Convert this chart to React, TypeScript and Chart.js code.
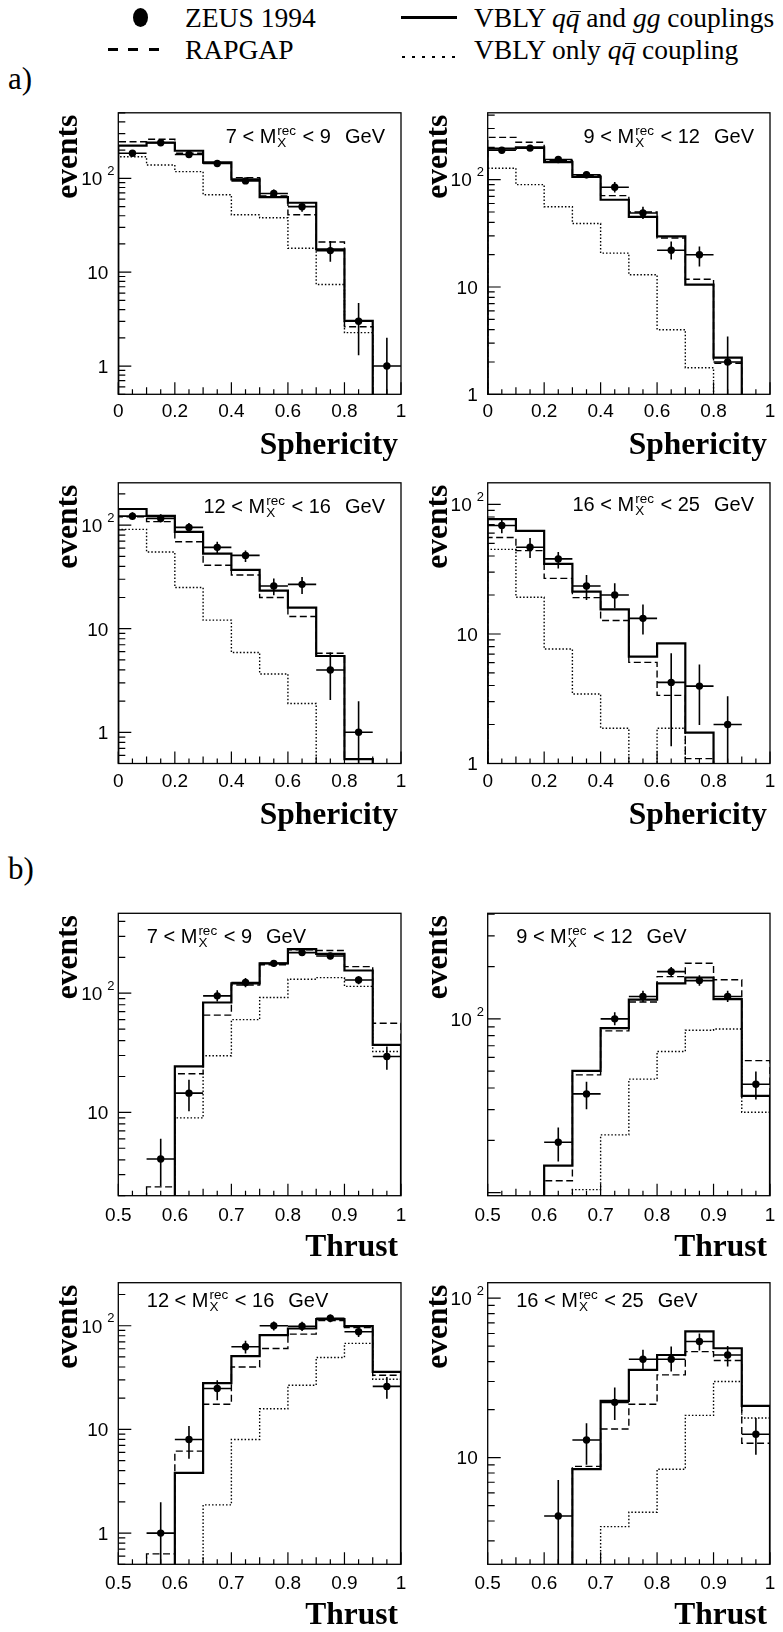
import React, { useEffect, useRef } from 'react';
import { Chart, registerables } from 'chart.js';

Chart.register(...registerables);

const PAGE_W = 783;
const PAGE_H = 1632;
const FONT_SANS = '"Liberation Sans", Arial, Helvetica, sans-serif';
const FONT_SERIF = '"Liberation Serif", "Times New Roman", serif';

// ---------------- bins / axes ----------------
const sphEdges = [0, 0.1, 0.2, 0.3, 0.4, 0.5, 0.6, 0.7, 0.8, 0.9, 1.0];
const sphCenters = [0.05, 0.15, 0.25, 0.35, 0.45, 0.55, 0.65, 0.75, 0.85, 0.95];
const thrEdges = [0.5, 0.55, 0.6, 0.65, 0.7, 0.75, 0.8, 0.85, 0.9, 0.95, 1.0];
const thrCenters = [0.525, 0.575, 0.625, 0.675, 0.725, 0.775, 0.825, 0.875, 0.925, 0.975];
const sphTickValues = [0, 0.2, 0.4, 0.6, 0.8, 1];
const sphTickLabels = ['0', '0.2', '0.4', '0.6', '0.8', '1'];
const thrTickValues = [0.5, 0.6, 0.7, 0.8, 0.9, 1];
const thrTickLabels = ['0.5', '0.6', '0.7', '0.8', '0.9', '1'];
const massLow = [7, 9, 12, 16];
const massHigh = [9, 12, 16, 25];

const sphYMin = [0.5, 1, 0.5, 1];
const sphYMax = [500, 420, 256, 147];
const thrYMin = [2, 9.6, 0.5, 2.14];
const thrYMax = [468, 405, 260, 125];
const sphYLabels = [[1, 10, 100], [1, 10, 100], [1, 10, 100], [1, 10, 100]];
const thrYLabels = [[10, 100], [100], [1, 10, 100], [10, 100]];

// ---------------- a) Sphericity ----------------
// 7 < M < 9 GeV
const sph1Zeus = [185, 240, 180, 144, 94, 69, 50, 17, 3.0, 1.0];
const sph1ZeusLo = [172, 226, 168, 134, 87, 62, 44, 12.9, 1.3, 0];
const sph1ZeusHi = [198, 255, 192, 154, 101, 76, 56, 21.5, 4.7, 2.0];
const sph1Vbly = [223, 240, 197, 148, 97.5, 63, 55, 17.5, 3.04, 0];
const sph1Rapgap = [246, 261, 185, 145, 102, 65, 41, 21, 2.62, 0];
const sph1VblyQQ = [170, 139, 118, 67, 41, 38, 18, 7.4, 2.27, 0];
// 9 < M < 12 GeV
const sph2Zeus = [188, 197, 154, 111, 85, 49, 22, 20, 2.0, null];
const sph2ZeusLo = [176, 185, 144, 103, 76, 43, 18, 15.5, 0, null];
const sph2ZeusHi = [200, 209, 164, 119, 95, 56, 26.6, 23.9, 3.45, null];
const sph2Vbly = [195, 200, 146, 106, 65, 45, 29.6, 10.5, 2.2, 0];
const sph2Rapgap = [248, 223, 151, 109, 71, 50, 28.6, 11.8, 1.95, 0];
const sph2VblyQQ = [128, 90, 56, 39, 20.7, 13, 4.0, 1.77, 0, 0];
// 12 < M < 16 GeV
const sph3Zeus = [122, 116, 95, 61, 51, 25.8, 26.8, 4.0, 1.0, null];
const sph3ZeusLo = [112, 106, 86, 53, 44, 21, 21.6, 2.05, 0, null];
const sph3ZeusHi = [133, 127, 105, 69, 57, 30.6, 31.6, 5.9, 1.99, null];
const sph3Vbly = [143, 123, 86, 53, 37, 23.3, 16, 5.45, 0.55, 0];
const sph3Rapgap = [120, 108, 69, 41, 33, 20, 13.1, 5.8, 0.55, 0];
const sph3VblyQQ = [91, 55, 25, 12.1, 5.9, 3.66, 1.9, 0, 0, 0];
// 16 < M < 25 GeV
const sph4Zeus = [68.8, 46.8, 38, 23.5, 20, 13.2, 4.23, 3.96, 2.0, null];
const sph4ZeusLo = [60, 38.6, 32, 18.3, 15.8, 9.9, 1.36, 1.98, 0, null];
const sph4ZeusHi = [77, 55, 43, 28.6, 24.6, 16.9, 7.1, 5.8, 3.3, null];
const sph4Vbly = [77, 62.6, 34.8, 21.2, 15.5, 6.68, 8.47, 1.73, 0, 0];
const sph4Rapgap = [55.6, 44, 26.9, 19.1, 12.7, 6.04, 3.36, 1.09, 0, 0];
const sph4VblyQQ = [45, 19.2, 7.65, 3.44, 1.87, 0, 1.87, 0, 0, 0];

// ---------------- b) Thrust ----------------
// 7 < M < 9 GeV
const thr1Zeus = [null, 4.06, 14.5, 95, 123, 178, 219, 205, 129, 29.4];
const thr1ZeusLo = [null, 2.4, 10.2, 85, 112, 166, 206, 193, 119, 22.8];
const thr1ZeusHi = [null, 6.0, 18.8, 106, 134, 190, 232, 217, 139, 35.7];
const thr1Vbly = [0, 0, 24.3, 83.5, 121, 178, 234, 214, 155, 36.9];
const thr1Rapgap = [0, 2.37, 21.1, 65.5, 117, 173, 231, 228, 167, 56];
const thr1VblyQQ = [0, 0, 9.0, 29.9, 60, 92, 131, 135, 114, 32.4];
// 9 < M < 12 GeV
const thr2Zeus = [null, null, 19.5, 37, 100, 134.5, 187, 166, 134.5, 42];
const thr2ZeusLo = [null, null, 15.1, 30.2, 92, 125, 176, 155, 125, 34.4];
const thr2ZeusHi = [null, null, 23.7, 43.5, 109, 145, 199, 178, 145, 49.8];
const thr2Vbly = [0, 0, 14.3, 50.2, 88.4, 129, 160, 173, 130, 36];
const thr2Rapgap = [0, 0, 11.7, 47.6, 85.3, 125, 175, 209, 168, 57.5];
const thr2VblyQQ = [0, 0, 0, 10.4, 21.5, 45, 64.9, 86, 87.5, 29];
// 12 < M < 16 GeV
const thr3Zeus = [null, 1.0, 8.0, 24.8, 62.7, 100, 99, 118, 87.5, 26];
const thr3ZeusLo = [null, 0, 5.2, 19.1, 54, 90, 89, 108, 78, 19.8];
const thr3ZeusHi = [null, 1.98, 10.8, 29.8, 71.7, 110, 109, 128, 97, 32];
const thr3Vbly = [0, 0, 3.81, 28, 50.8, 81, 94, 116, 99, 35.9];
const thr3Rapgap = [0, 0.63, 6.17, 17.5, 40, 60.4, 83, 112, 96, 33.3];
const thr3VblyQQ = [0, 0, 0, 1.87, 8.0, 15.8, 26.7, 49.4, 67.5, 30.5];
// 16 < M < 25 GeV
const thr4Zeus = [null, null, 4.3, 12.9, 22.2, 41.4, 41.4, 53.5, 44, 14];
const thr4ZeusLo = [null, null, 0, 9.0, 17.2, 35.5, 34.7, 47, 37.2, 10.4];
const thr4ZeusHi = [null, null, 7.24, 16.4, 27.5, 47.4, 49.8, 60, 50.1, 17.7];
const thr4Vbly = [0, 0, 0, 8.45, 22.7, 35.5, 44, 61.8, 48.5, 21.1];
const thr4Rapgap = [0, 0, 0, 8.8, 15.1, 21.6, 33, 46.2, 40.6, 12.3];
const thr4VblyQQ = [0, 0, 0, 0, 3.69, 4.54, 8.45, 18.4, 30, 17.7];

// ---------------- layout ----------------
const ROWS = [
  { top: 112.8, bottom: 394.3 },
  { top: 482.8, bottom: 763.5 },
  { top: 913.3, bottom: 1195.7 },
  { top: 1282.7, bottom: 1564.3 },
];
const COLS = [
  { canvasLeft: 0, canvasWidth: 410, left: 118.3, right: 401 },
  { canvasLeft: 410, canvasWidth: 373, left: 487.7, right: 770 },
];
const TITLE_BASE = [30, 30, 30.5, 28.5, 29.4, 30, 24, 24];

type Num = number | null;
interface PanelCfg {
  key: string;
  kind: 'sph' | 'thr';
  row: number;
  col: number;
  edges: number[];
  centers: number[];
  halfWidth: number;
  xMin: number;
  xMax: number;
  xMinorStep: number;
  xTickValues: number[];
  xTickLabels: string[];
  xTitle: string;
  xLabelDy: number;
  yMin: number;
  yMax: number;
  yLabels: number[];
  zeus: Num[];
  zeusLo: Num[];
  zeusHi: Num[];
  vbly: number[];
  rapgap: number[];
  vblyQQ: number[];
  massLo: number;
  massHi: number;
  titleBase: number;
}

const sphSets = [
  [sph1Zeus, sph1ZeusLo, sph1ZeusHi, sph1Vbly, sph1Rapgap, sph1VblyQQ],
  [sph2Zeus, sph2ZeusLo, sph2ZeusHi, sph2Vbly, sph2Rapgap, sph2VblyQQ],
  [sph3Zeus, sph3ZeusLo, sph3ZeusHi, sph3Vbly, sph3Rapgap, sph3VblyQQ],
  [sph4Zeus, sph4ZeusLo, sph4ZeusHi, sph4Vbly, sph4Rapgap, sph4VblyQQ],
];
const thrSets = [
  [thr1Zeus, thr1ZeusLo, thr1ZeusHi, thr1Vbly, thr1Rapgap, thr1VblyQQ],
  [thr2Zeus, thr2ZeusLo, thr2ZeusHi, thr2Vbly, thr2Rapgap, thr2VblyQQ],
  [thr3Zeus, thr3ZeusLo, thr3ZeusHi, thr3Vbly, thr3Rapgap, thr3VblyQQ],
  [thr4Zeus, thr4ZeusLo, thr4ZeusHi, thr4Vbly, thr4Rapgap, thr4VblyQQ],
];

const PANELS: PanelCfg[] = [];
sphSets.forEach((s, i) => {
  PANELS.push({
    key: 'sph' + i, kind: 'sph', row: Math.floor(i / 2), col: i % 2,
    edges: sphEdges, centers: sphCenters, halfWidth: 0.05,
    xMin: 0, xMax: 1, xMinorStep: 0.05,
    xTickValues: sphTickValues, xTickLabels: sphTickLabels, xTitle: 'Sphericity', xLabelDy: 23,
    yMin: sphYMin[i], yMax: sphYMax[i], yLabels: sphYLabels[i],
    zeus: s[0] as Num[], zeusLo: s[1] as Num[], zeusHi: s[2] as Num[],
    vbly: s[3] as number[], rapgap: s[4] as number[], vblyQQ: s[5] as number[],
    massLo: massLow[i], massHi: massHigh[i], titleBase: TITLE_BASE[i],
  });
});
thrSets.forEach((s, i) => {
  PANELS.push({
    key: 'thr' + i, kind: 'thr', row: 2 + Math.floor(i / 2), col: i % 2,
    edges: thrEdges, centers: thrCenters, halfWidth: 0.025,
    xMin: 0.5, xMax: 1, xMinorStep: 0.025,
    xTickValues: thrTickValues, xTickLabels: thrTickLabels, xTitle: 'Thrust', xLabelDy: 25,
    yMin: thrYMin[i], yMax: thrYMax[i], yLabels: thrYLabels[i],
    zeus: s[0] as Num[], zeusLo: s[1] as Num[], zeusHi: s[2] as Num[],
    vbly: s[3] as number[], rapgap: s[4] as number[], vblyQQ: s[5] as number[],
    massLo: massLow[i], massHi: massHigh[i], titleBase: TITLE_BASE[4 + i],
  });
});

function histPoints(edges: number[], vals: number[], floor: number) {
  const pts: { x: number; y: number }[] = [{ x: edges[0], y: floor }];
  vals.forEach((v, i) => pts.push({ x: edges[i], y: v > 0 ? v : floor }));
  const last = vals[vals.length - 1];
  pts.push({ x: edges[edges.length - 1], y: last > 0 ? last : floor });
  pts.push({ x: edges[edges.length - 1], y: floor });
  return pts;
}

function drawMassTitle(ctx: CanvasRenderingContext2D, lo: number, hi: number, x: number, y: number, alignRight: boolean) {
  const big = `20px ${FONT_SANS}`;
  const small = `13.5px ${FONT_SANS}`;
  const s1 = `${lo} < M`;
  const s2 = ` < ${hi}`;
  const s3 = 'GeV';
  const gap = 14;
  ctx.font = big;
  const w1 = ctx.measureText(s1).width;
  const w2 = ctx.measureText(s2).width;
  const w3 = ctx.measureText(s3).width;
  ctx.font = small;
  const ws = Math.max(ctx.measureText('rec').width, ctx.measureText('X').width) + 1;
  const total = w1 + 1 + ws + w2 + gap + w3;
  const x0 = alignRight ? x - total : x;
  ctx.textAlign = 'left';
  ctx.textBaseline = 'alphabetic';
  ctx.font = big;
  ctx.fillText(s1, x0, y);
  ctx.font = small;
  ctx.fillText('rec', x0 + w1 + 1, y - 8);
  ctx.fillText('X', x0 + w1 + 1, y + 4);
  ctx.font = big;
  ctx.fillText(s2, x0 + w1 + 1 + ws, y);
  ctx.fillText(s3, x0 + w1 + 1 + ws + w2 + gap, y);
}

function makeDecor(p: PanelCfg) {
  return {
    id: 'decor_' + p.key,
    afterDatasetsDraw(chart: any) {
      const ctx: CanvasRenderingContext2D = chart.ctx;
      const xs = chart.scales.x;
      const ys = chart.scales.y;
      const { left, right, top, bottom } = chart.chartArea;
      ctx.save();
      ctx.beginPath();
      ctx.rect(left, top, right - left, bottom - top);
      ctx.clip();
      ctx.strokeStyle = '#000';
      ctx.lineWidth = 1.6;
      ctx.setLineDash([]);
      ctx.beginPath();
      p.zeus.forEach((v, i) => {
        if (v == null) return;
        const c = p.centers[i];
        const py = ys.getPixelForValue(v);
        ctx.moveTo(xs.getPixelForValue(c - p.halfWidth), py);
        ctx.lineTo(xs.getPixelForValue(c + p.halfWidth), py);
        const lo = p.zeusLo[i] as number;
        const hi = p.zeusHi[i] as number;
        const px = xs.getPixelForValue(c);
        ctx.moveTo(px, ys.getPixelForValue(lo > 0 ? lo : p.yMin * 0.01));
        ctx.lineTo(px, ys.getPixelForValue(hi));
      });
      ctx.stroke();
      ctx.restore();
    },
    afterDraw(chart: any) {
      const ctx: CanvasRenderingContext2D = chart.ctx;
      const xs = chart.scales.x;
      const ys = chart.scales.y;
      const { left, right, top, bottom } = chart.chartArea;
      ctx.save();
      ctx.strokeStyle = '#000';
      ctx.fillStyle = '#000';
      ctx.setLineDash([]);
      ctx.lineWidth = 1.3;
      ctx.strokeRect(left, top, right - left, bottom - top);
      // ticks
      ctx.lineWidth = 1.2;
      ctx.beginPath();
      const n = Math.round((p.xMax - p.xMin) / p.xMinorStep);
      for (let i = 0; i <= n; i++) {
        const v = p.xMin + i * p.xMinorStep;
        const px = xs.getPixelForValue(v);
        const len = i % 4 === 0 ? 12 : i % 2 === 0 ? 7 : 5;
        ctx.moveTo(px, bottom);
        ctx.lineTo(px, bottom - len);
      }
      const dMin = Math.floor(Math.log10(p.yMin));
      const dMax = Math.ceil(Math.log10(p.yMax));
      for (let d = dMin; d <= dMax; d++) {
        for (let m = 1; m <= 9; m++) {
          const v = m * Math.pow(10, d);
          if (v < p.yMin * 0.999 || v > p.yMax * 1.001) continue;
          const py = ys.getPixelForValue(v);
          ctx.moveTo(left, py);
          ctx.lineTo(left + (m === 1 ? 13 : 7), py);
        }
      }
      ctx.stroke();
      // x tick labels
      ctx.font = `19px ${FONT_SANS}`;
      ctx.textAlign = 'center';
      ctx.textBaseline = 'alphabetic';
      p.xTickValues.forEach((v, i) => {
        ctx.fillText(p.xTickLabels[i], xs.getPixelForValue(v), bottom + p.xLabelDy);
      });
      // y tick labels
      p.yLabels.forEach((v) => {
        const py = ys.getPixelForValue(v);
        if (v === 100) {
          ctx.font = `19px ${FONT_SANS}`;
          ctx.textAlign = 'right';
          ctx.fillText('10', left - 16, py + 6.8);
          ctx.font = `13px ${FONT_SANS}`;
          ctx.textAlign = 'left';
          ctx.fillText('2', left - 11, py - 3.3);
        } else {
          ctx.font = `19px ${FONT_SANS}`;
          ctx.textAlign = 'right';
          ctx.fillText(String(v), left - 10, py + 6.8);
        }
      });
      // axis titles
      ctx.font = `bold 31.5px ${FONT_SERIF}`;
      ctx.textAlign = 'right';
      ctx.fillText(p.xTitle, right - 3, bottom + 60);
      ctx.save();
      ctx.translate(left - 41, top + 2);
      ctx.rotate(-Math.PI / 2);
      ctx.textAlign = 'right';
      ctx.fillText('events', 0, 0);
      ctx.restore();
      // mass bin label
      if (p.kind === 'sph') {
        drawMassTitle(ctx, p.massLo, p.massHi, right - 16, top + p.titleBase, true);
      } else {
        drawMassTitle(ctx, p.massLo, p.massHi, left + 28.5, top + p.titleBase, false);
      }
      ctx.restore();
    },
  };
}

function Panel({ p }: { p: PanelCfg }) {
  const ref = useRef<HTMLCanvasElement>(null);
  const row = ROWS[p.row];
  const col = COLS[p.col];
  const cTop = Math.floor(row.top - 22);
  const cBottom = Math.min(PAGE_H, Math.ceil(row.bottom + 72));
  const cH = cBottom - cTop;
  useEffect(() => {
    if (!ref.current) return;
    const floor = p.yMin * 0.01;
    const chart = new Chart(ref.current, {
      type: 'line',
      data: {
        datasets: [
          {
            type: 'scatter',
            label: 'ZEUS 1994',
            data: p.zeus.map((v, i) => ({ x: p.centers[i], y: v })),
            pointRadius: 3.7,
            pointStyle: 'circle',
            backgroundColor: '#000',
            borderColor: '#000',
            borderWidth: 0,
          },
          {
            label: 'VBLY qq and gg couplings',
            data: histPoints(p.edges, p.vbly, floor),
            stepped: true,
            borderColor: '#000',
            borderWidth: 2.2,
            pointRadius: 0,
            fill: false,
          },
          {
            label: 'RAPGAP',
            data: histPoints(p.edges, p.rapgap, floor),
            stepped: true,
            borderColor: '#000',
            borderWidth: 1.4,
            borderDash: [7, 3.5],
            pointRadius: 0,
            fill: false,
          },
          {
            label: 'VBLY only qq coupling',
            data: histPoints(p.edges, p.vblyQQ, floor),
            stepped: true,
            borderColor: '#000',
            borderWidth: 1.4,
            borderDash: [1.5, 2],
            pointRadius: 0,
            fill: false,
          },
        ] as any,
      },
      options: {
        animation: false,
        responsive: false,
        maintainAspectRatio: false,
        devicePixelRatio: 1,
        layout: {
          padding: {
            left: col.left - col.canvasLeft,
            right: col.canvasLeft + col.canvasWidth - col.right,
            top: row.top - cTop,
            bottom: cBottom - row.bottom,
          },
        },
        plugins: { legend: { display: false }, tooltip: { enabled: false } },
        scales: {
          x: { type: 'linear', min: p.xMin, max: p.xMax, display: false },
          y: { type: 'logarithmic', min: p.yMin, max: p.yMax, display: false },
        },
      } as any,
      plugins: [makeDecor(p)],
    });
    return () => chart.destroy();
  }, []);
  return (
    <canvas
      ref={ref}
      width={col.canvasWidth}
      height={cH}
      style={{ position: 'absolute', left: col.canvasLeft, top: cTop, width: col.canvasWidth, height: cH }}
    />
  );
}

function LegendText({ x, base, size, children }: { x: number; base: number; size: number; children: any }) {
  return (
    <div
      style={{
        position: 'absolute',
        left: x,
        top: base - 0.8375 * size,
        fontSize: size,
        lineHeight: `${size}px`,
        fontFamily: FONT_SERIF,
        whiteSpace: 'nowrap',
        color: '#000',
      }}
    >
      {children}
    </div>
  );
}

function QBar() {
  return (
    <span style={{ position: 'relative', fontStyle: 'italic' }}>
      q
      <span
        style={{
          position: 'absolute',
          left: '0.14em',
          width: '0.4em',
          top: '0.33em',
          borderTop: '1.5px solid #000',
        }}
      />
    </span>
  );
}

export default function App() {
  const LS = 27.5;
  const dots = [0, 1, 2, 3, 4, 5];
  return (
    <div
      style={{
        position: 'absolute',
        left: 0,
        top: 0,
        width: PAGE_W,
        height: PAGE_H,
        overflow: 'hidden',
        background: '#fff',
      }}
    >
      {/* legend */}
      <div style={{ position: 'absolute', left: 132.5, top: 7.5, width: 15, height: 19, borderRadius: '50%', background: '#000' }} />
      <LegendText x={185} base={27} size={LS}>ZEUS 1994</LegendText>
      <div style={{ position: 'absolute', left: 401, top: 15.5, width: 56, height: 3, background: '#000' }} />
      <LegendText x={474} base={27} size={LS}>
        VBLY <i>q</i><QBar /> and <i>gg</i> couplings
      </LegendText>
      {[107.5, 128, 148.5].map((x) => (
        <div key={x} style={{ position: 'absolute', left: x, top: 47.5, width: 10, height: 3, background: '#000' }} />
      ))}
      <LegendText x={185} base={59} size={LS}>RAPGAP</LegendText>
      {dots.map((i) => (
        <div key={i} style={{ position: 'absolute', left: 402 + i * 10, top: 55.5, width: 2.6, height: 2.6, background: '#000' }} />
      ))}
      <LegendText x={474} base={59} size={LS}>
        VBLY only <i>q</i><QBar /> coupling
      </LegendText>
      <LegendText x={8} base={89} size={31}>a)</LegendText>
      <LegendText x={8} base={879} size={31}>b)</LegendText>
      {PANELS.map((p) => (
        <Panel key={p.key} p={p} />
      ))}
    </div>
  );
}
